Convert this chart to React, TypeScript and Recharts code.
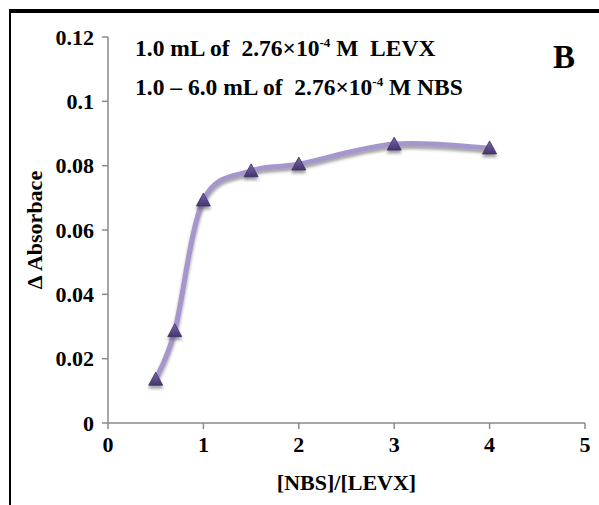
import React from "react";
import { LineChart, Line, XAxis, YAxis, Label } from "recharts";

// NBS : LEVX mole ratio vs. absorbance change
const ratio = [0.5, 0.7, 1.0, 1.5, 2.0, 3.0, 4.0];
const deltaAbs = [0.0136, 0.0287, 0.0693, 0.0784, 0.0805, 0.0867, 0.0855];
const xTicks = [0, 1, 2, 3, 4, 5];
const yTicks = [0, 0.02, 0.04, 0.06, 0.08, 0.1, 0.12];

const data = ratio.map((r, i) => ({ ratio: r, dA: deltaAbs[i] }));

const FONT = '"Liberation Serif", "Times New Roman", serif';
const AXIS_GREY = "#8a8a8a";

// Smoothed line through every point (Catmull-Rom style Bezier segments)
function smoothCurve(context: any) {
  let pts: [number, number][] = [];
  return {
    areaStart() {},
    areaEnd() {},
    lineStart() {
      pts = [];
    },
    lineEnd() {
      if (!pts.length) return;
      context.moveTo(pts[0][0], pts[0][1]);
      for (let i = 0; i < pts.length - 1; i++) {
        const p0 = pts[i - 1] || pts[i];
        const p1 = pts[i];
        const p2 = pts[i + 1];
        const p3 = pts[i + 2] || p2;
        context.bezierCurveTo(
          p1[0] + (p2[0] - p0[0]) / 6,
          p1[1] + (p2[1] - p0[1]) / 6,
          p2[0] - (p3[0] - p1[0]) / 6,
          p2[1] - (p3[1] - p1[1]) / 6,
          p2[0],
          p2[1]
        );
      }
    },
    point(x: number, y: number) {
      pts.push([x, y]);
    },
  };
}

const TriangleDot = (props: any) => {
  const { cx, cy, index } = props;
  if (cx == null || cy == null) return null;
  const s = 7;
  return (
    <path
      key={`tri-${index}`}
      d={`M${cx},${cy - s} L${cx + s},${cy + s * 0.85} L${cx - s},${cy + s * 0.85} Z`}
      fill="url(#triFill)"
      stroke="#3f2f6c"
      strokeWidth={0.8}
      filter="url(#dropShadow)"
    />
  );
};

const fmtY = (v: number) => (v === 0 ? "0" : String(+v.toFixed(2)));

const textStyle = { fill: "#000", fontSize: 22, fontWeight: 700, fontFamily: FONT };
const noteStyle = { ...textStyle, fontSize: 23.5, whiteSpace: "pre" as const };

export default function App() {
  return (
    <div style={{ position: "absolute", left: 0, top: 0, width: 599, height: 505, background: "#fff" }}>
      {/* panel frame */}
      <div style={{ position: "absolute", left: 9, top: 9, width: 590, height: 4, background: "#000" }} />
      <div style={{ position: "absolute", left: 9, top: 9, width: 2, height: 496, background: "#000" }} />

      <LineChart
        width={599}
        height={505}
        data={data}
        margin={{ top: 37, right: 14, bottom: 12, left: 36 }}
        style={{ position: "absolute", left: 0, top: 0, fontFamily: FONT }}
      >
        <defs>
          <filter id="dropShadow" x="-20%" y="-20%" width="140%" height="160%">
            <feDropShadow dx="0" dy="3" stdDeviation="1.6" floodColor="#555" floodOpacity="0.55" />
          </filter>
          <linearGradient id="triFill" x1="0" y1="0" x2="0" y2="1">
            <stop offset="0%" stopColor="#7a68a8" />
            <stop offset="100%" stopColor="#45346f" />
          </linearGradient>
        </defs>
        <XAxis
          dataKey="ratio"
          type="number"
          domain={[0, 5]}
          ticks={xTicks}
          interval={0}
          height={70}
          stroke={AXIS_GREY}
          strokeWidth={1.5}
          tickSize={6}
          tickLine={{ stroke: AXIS_GREY, strokeWidth: 1.5 }}
          tick={textStyle}
          tickMargin={7}
        >
          <Label value="[NBS]/[LEVX]" position="insideBottom" offset={3} style={textStyle} />
        </XAxis>
        <YAxis
          type="number"
          domain={[0, 0.12]}
          ticks={yTicks}
          interval={0}
          width={72}
          stroke={AXIS_GREY}
          strokeWidth={1.5}
          tickSize={6}
          tickLine={{ stroke: AXIS_GREY, strokeWidth: 1.5 }}
          tickFormatter={fmtY}
          tick={textStyle}
          tickMargin={8}
        >
          <Label
            value="Δ Absorbace"
            angle={-90}
            position="insideLeft"
            offset={-2}
            style={{ ...textStyle, textAnchor: "middle" }}
          />
        </YAxis>
        <Line
          dataKey="dA"
          type={smoothCurve as any}
          stroke="#a796cc"
          strokeWidth={5}
          filter="url(#dropShadow)"
          dot={<TriangleDot />}
          activeDot={false}
          isAnimationActive={false}
        />
        <text x={135} y={56} style={noteStyle}>
          1.0 mL of  2.76×10<tspan dy={-9} fontSize={13}>-4</tspan>
          <tspan dy={9}> M  LEVX</tspan>
        </text>
        <text x={135} y={95} style={noteStyle}>
          1.0 – 6.0 mL of  2.76×10<tspan dy={-9} fontSize={13}>-4</tspan>
          <tspan dy={9}> M NBS</tspan>
        </text>
        <text x={564} y={68} textAnchor="middle" style={{ ...textStyle, fontSize: 33 }}>
          B
        </text>
      </LineChart>
    </div>
  );
}
